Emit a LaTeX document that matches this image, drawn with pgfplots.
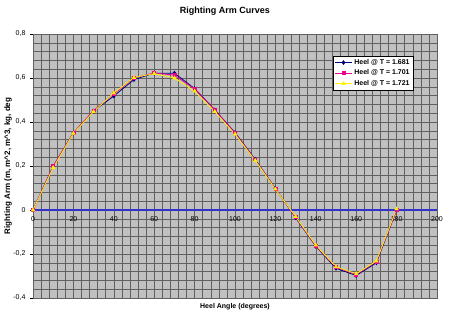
\documentclass[border=0pt]{standalone}
\usepackage{pgfplots}
\pgfplotsset{compat=1.18}
\usepackage{fontspec}
\setmainfont{Liberation Sans}
\usetikzlibrary{calc}
\definecolor{plotbg}{RGB}{192,192,192}
\definecolor{gridc}{RGB}{96,96,96}
\definecolor{navyc}{RGB}{0,0,128}
\definecolor{axblue}{RGB}{51,51,204}
\begin{document}
\begin{tikzpicture}
\begin{axis}[
  name=ax,
  scale only axis,
  width=404bp, height=264bp,
  xmin=0, xmax=200, ymin=-0.4, ymax=0.8,
  xtick={0,20,...,200},
  ytick={-0.4,-0.2,0,0.2,0.4,0.6,0.8},
  minor x tick num=4,
  minor y tick num=4,
  grid=both,
  grid style={draw=gridc, line width=0.5pt},
  minor grid style={draw=gridc, line width=0.5pt},
  axis background/.style={fill=plotbg},
  axis line style={draw=gridc, line width=0.5pt},
  xtick style={draw=none},
  minor tick length=0pt,
  ytick style={draw=black, line width=0.4pt},
  major tick length=3bp,
  tick align=outside,
  xtick pos=bottom, ytick pos=left,
  /pgf/number format/assume math mode=true,
  /pgf/number format/use comma,
  yticklabel style={font=\fontsize{7bp}{8bp}\selectfont, xshift=-1bp},
  xticklabel style={font=\fontsize{7bp}{8bp}\selectfont, yshift=88bp},
  title={\textbf{Righting Arm Curves}},
  every axis title/.style={at={(axis description cs:0.5,1)}, yshift=23bp, xshift=-10bp, anchor=center, font=\fontsize{9bp}{10bp}\selectfont},
  xlabel={\textbf{Heel Angle (degrees)}},
  every axis x label/.style={at={(axis description cs:0.5,0)}, yshift=-9bp, anchor=center, font=\fontsize{7bp}{8bp}\selectfont},
  ylabel={\textbf{Righting Arm (m, m\textasciicircum 2, m\textasciicircum 3, kg, deg}},
  every axis y label/.style={at={(axis description cs:0,0.5)}, xshift=-25bp, rotate=90, anchor=center, font=\fontsize{8bp}{9bp}\selectfont},
  legend style={at={(axis description cs:0.743,0.917)}, anchor=north west, draw=black, fill=white, font=\fontsize{7bp}{8bp}\selectfont\bfseries, inner sep=1.2bp, row sep=0bp, cells={anchor=west}},
]
\draw[axblue, line width=1.2pt] (axis cs:0,0) -- (axis cs:200,0);
\addplot[navyc, line width=0.8pt, mark=diamond*, mark size=1.8bp, mark options={fill=navyc}] coordinates {
(0,0) (10,0.198) (20,0.35) (30,0.45) (40,0.518) (50,0.593) (60,0.622) (70,0.622) (80,0.552) (90,0.455) (100,0.352) (110,0.23) (120,0.098) (130,-0.035) (140,-0.165) (150,-0.265) (160,-0.298) (170,-0.24) (180,0)
};
\addlegendentry{Heel @ T = 1.681}
\addplot[magenta, line width=0.8pt, mark=square*, mark size=1.5bp, mark options={fill=magenta}] coordinates {
(0,0) (10,0.2) (20,0.35) (30,0.452) (40,0.528) (50,0.6) (60,0.623) (70,0.613) (80,0.55) (90,0.455) (100,0.35) (110,0.228) (120,0.097) (130,-0.033) (140,-0.163) (150,-0.26) (160,-0.293) (170,-0.235) (180,0)
};
\addlegendentry{Heel @ T = 1.701}
\addplot[yellow, line width=0.8pt, mark=triangle*, mark size=1.8bp, mark options={fill=yellow}] coordinates {
(0,0) (10,0.193) (20,0.348) (30,0.447) (40,0.532) (50,0.602) (60,0.62) (70,0.6) (80,0.54) (90,0.447) (100,0.345) (110,0.225) (120,0.095) (130,-0.03) (140,-0.16) (150,-0.258) (160,-0.29) (170,-0.232) (180,0.005)
};
\addlegendentry{Heel @ T = 1.721}
\end{axis}
\pgfresetboundingbox
\path ($(ax.south west)+(-33bp,-23bp)$) rectangle ($(ax.south west)+(417bp,298bp)$);
\end{tikzpicture}
\end{document}
